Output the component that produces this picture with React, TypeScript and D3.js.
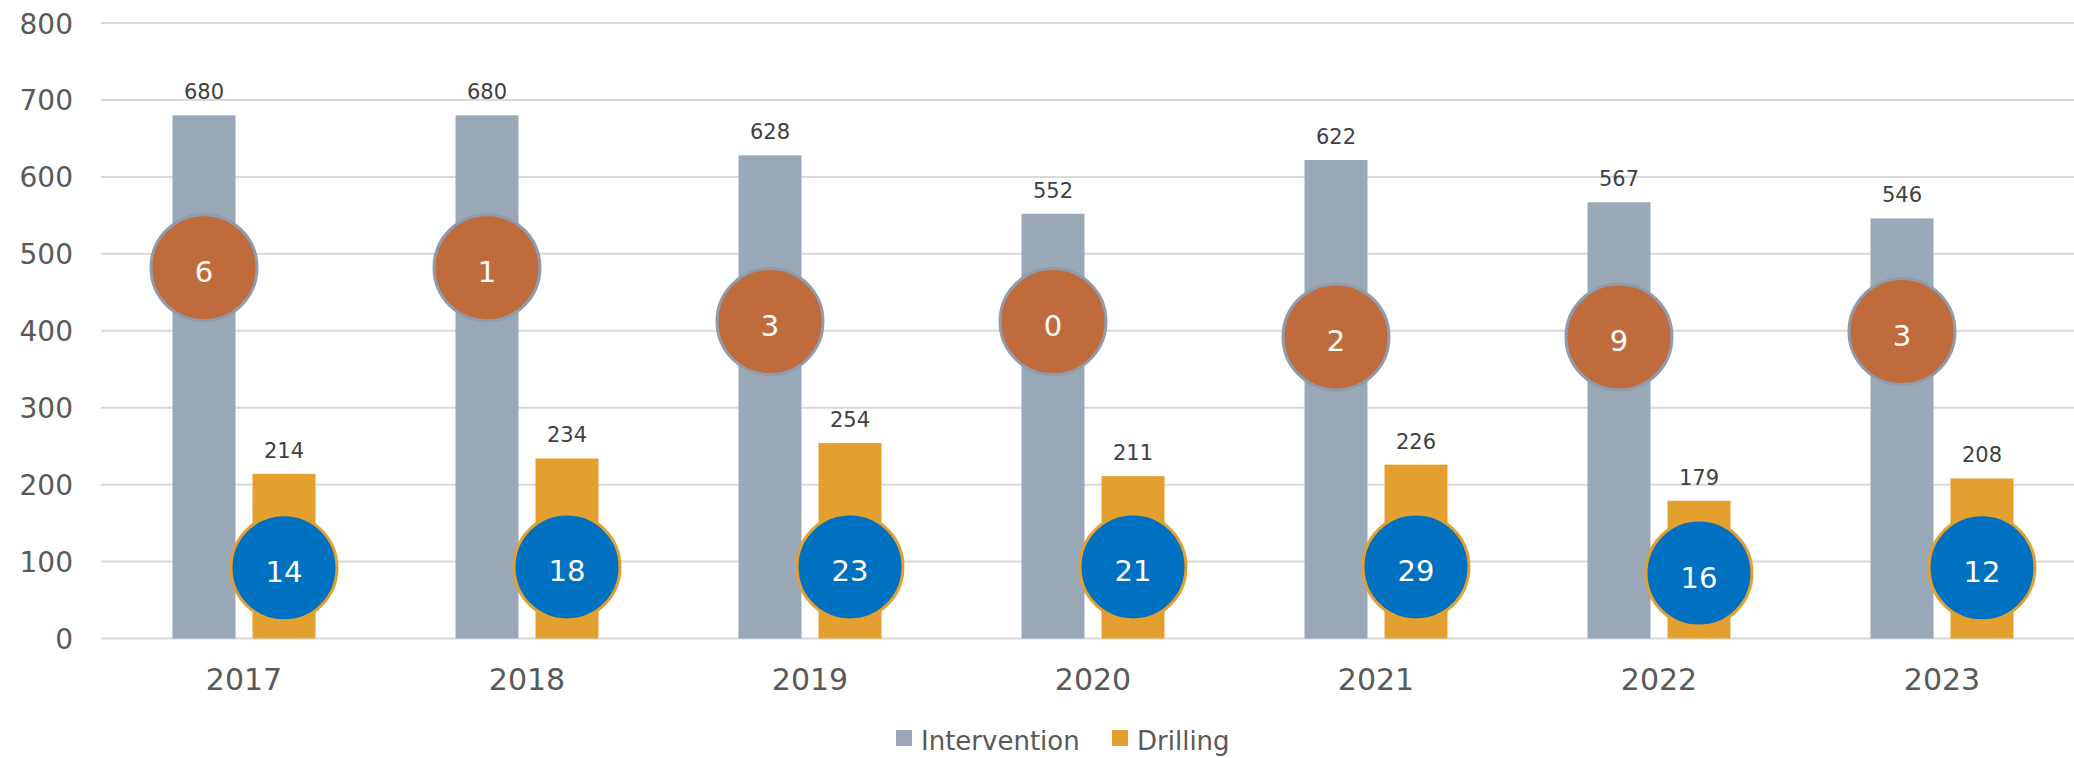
import React from "react";
import * as d3 from "d3";

const years = ["2017", "2018", "2019", "2020", "2021", "2022", "2023"];
const intervention = [680, 680, 628, 552, 622, 567, 546];
const drilling = [214, 234, 254, 211, 226, 179, 208];
const interventionCounts = [6, 1, 3, 0, 2, 9, 3];
const interventionBubbleY = [482, 482, 412, 412, 392, 392, 399];
const drillingCounts = [14, 18, 23, 21, 29, 16, 12];
const drillingBubbleY = [92, 93, 93, 93, 93, 85, 92];
const yTicks = [0, 100, 200, 300, 400, 500, 600, 700, 800];
const seriesNames = ["Intervention", "Drilling"];

const W = 2074;
const H = 758;
const FONT = "'DejaVu Sans', sans-serif";
const C_INT = "#9ba8b7";
const C_DRL = "#e4a02f";
const C_ORB = "#bf6b3c";
const C_BLB = "#0070c0";

export default function App() {
  const x = d3.scaleBand<string>().domain(years).range([102.5, 102.5 + 283 * 7]).paddingInner(0).paddingOuter(0);
  const xs = d3.scaleBand<string>().domain(seriesNames).range([0, x.bandwidth()]).paddingInner(0.2125).paddingOuter(0.875);
  const y = d3.scaleLinear().domain([0, 800]).range([638.5, 23]);
  const bw = xs.bandwidth();
  const R = 53;

  return (
    <div style={{ position: "absolute", left: 0, top: 0, width: W, height: H, background: "#fff" }}>
      <svg width={W} height={H} style={{ display: "block" }} fontFamily={FONT}>
        <rect x={0} y={0} width={W} height={H} fill="#fff" />
        {yTicks.map((t) => (
          <g key={t}>
            <line x1={101} x2={W} y1={y(t)} y2={y(t)} stroke="#d9d9d9" strokeWidth={2} />
            <text x={73} y={y(t) + 10.5} textAnchor="end" fontSize={28} fill="#595959">{t}</text>
          </g>
        ))}
        {years.map((yr, i) => {
          const gx = x(yr)!;
          const xi = gx + xs("Intervention")!;
          const xd = gx + xs("Drilling")!;
          return (
            <g key={yr}>
              <rect x={xi} y={y(intervention[i])} width={bw} height={y(0) - y(intervention[i])} fill={C_INT} />
              <rect x={xd} y={y(drilling[i])} width={bw} height={y(0) - y(drilling[i])} fill={C_DRL} />
              <text x={xi + bw / 2} y={y(intervention[i]) - 16} textAnchor="middle" fontSize={21} fill="#404040">{intervention[i]}</text>
              <text x={xd + bw / 2} y={y(drilling[i]) - 16} textAnchor="middle" fontSize={21} fill="#404040">{drilling[i]}</text>
              <text x={gx + x.bandwidth() / 2} y={690} textAnchor="middle" fontSize={30} fill="#595959">{yr}</text>
            </g>
          );
        })}
        {years.map((yr, i) => {
          const gx = x(yr)!;
          const cxI = gx + xs("Intervention")! + bw / 2;
          const cxD = gx + xs("Drilling")! + bw / 2;
          const cyI = y(interventionBubbleY[i]);
          const cyD = y(drillingBubbleY[i]);
          return (
            <g key={"b" + yr}>
              <circle cx={cxI} cy={cyI} r={R} fill={C_ORB} stroke="#8e9cad" strokeWidth={3} />
              <text x={cxI} y={cyI + 14.5} textAnchor="middle" fontSize={29} fill="#fff">{interventionCounts[i]}</text>
              <circle cx={cxD} cy={cyD} r={R} fill={C_BLB} stroke={C_DRL} strokeWidth={3} />
              <text x={cxD} y={cyD + 14.5} textAnchor="middle" fontSize={29} fill="#fff">{drillingCounts[i]}</text>
            </g>
          );
        })}
        <g>
          <rect x={896} y={730} width={16} height={16} fill={C_INT} />
          <text x={921} y={750} fontSize={26} fill="#595959">{seriesNames[0]}</text>
          <rect x={1112} y={730} width={16} height={16} fill={C_DRL} />
          <text x={1137} y={750} fontSize={26} fill="#595959">{seriesNames[1]}</text>
        </g>
      </svg>
    </div>
  );
}
